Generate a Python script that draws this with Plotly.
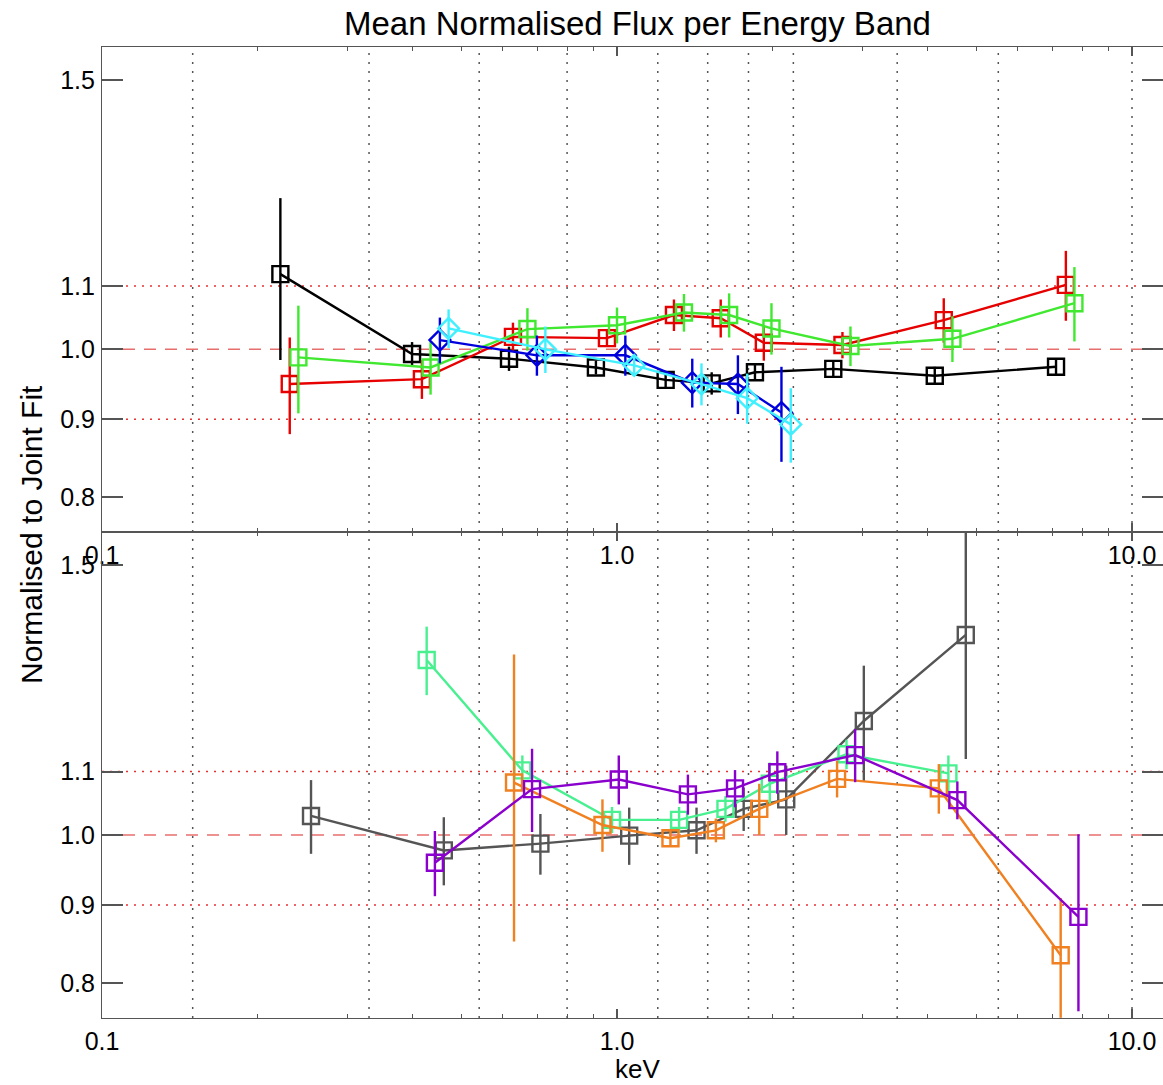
import math
import plotly.graph_objects as go

# ---------------- data ----------------
# top panel
black_e = [0.222, 0.400, 0.617, 0.910, 1.243, 1.527, 1.853, 2.63, 4.14, 7.12]
black_v = [1.120, 0.993, 0.986, 0.973, 0.955, 0.950, 0.966, 0.971, 0.961, 0.974]
black_err = [0.136, 0.018, 0.018, 0.010, 0.012, 0.016, 0.012, 0.011, 0.013, 0.012]

red_e = [0.2315, 0.418, 0.628, 0.956, 1.29, 1.59, 1.928, 2.74, 4.31, 7.44]
red_v = [0.949, 0.956, 1.019, 1.017, 1.053, 1.048, 1.010, 1.0065, 1.045, 1.102]
red_err = [0.069, 0.028, 0.022, 0.013, 0.025, 0.03, 0.027, 0.02, 0.035, 0.058]

green_e = [0.2406, 0.4345, 0.67, 1.0, 1.349, 1.651, 1.995, 2.84, 4.48, 7.73]
green_v = [0.988, 0.973, 1.031, 1.037, 1.057, 1.053, 1.032, 1.005, 1.016, 1.072]
green_err = [0.08, 0.039, 0.033, 0.028, 0.03, 0.035, 0.04, 0.03, 0.035, 0.06]

blue_e = [0.453, 0.699, 1.038, 1.40, 1.717, 2.086]
blue_v = [1.014, 0.991, 0.991, 0.951, 0.949, 0.909]
blue_err = [0.035, 0.03, 0.03, 0.035, 0.042, 0.065]

cyan_e = [0.471, 0.726, 1.08, 1.459, 1.79, 2.175]
cyan_v = [1.032, 1.0, 0.976, 0.949, 0.929, 0.893]
cyan_err = [0.03, 0.035, 0.015, 0.03, 0.035, 0.05]

# bottom panel
gray_e = [0.2546, 0.461, 0.71, 1.056, 1.427, 1.762, 2.131, 3.015, 4.756]
gray_v = [1.029, 0.977, 0.987, 0.999, 1.007, 1.040, 1.055, 1.187, 1.351]
gray_err = [0.057, 0.05, 0.045, 0.043, 0.035, 0.034, 0.055, 0.103, 0.23]

aqua_e = [0.427, 0.655, 0.978, 1.32, 1.624, 1.98, 2.79, 4.40]
aqua_v = [1.301, 1.102, 1.023, 1.023, 1.040, 1.080, 1.129, 1.097]
aqua_err = [0.067, 0.025, 0.02, 0.02, 0.02, 0.035, 0.025, 0.03]

orange_e = [0.631, 0.937, 1.27, 1.556, 1.889, 2.675, 4.216, 7.27]
orange_v = [1.082, 1.015, 0.995, 1.007, 1.040, 1.088, 1.0725, 0.8345]
orange_err = [0.23, 0.04, 0.012, 0.018, 0.04, 0.03, 0.04, 0.075]

purple_e = [0.443, 0.684, 1.008, 1.373, 1.695, 2.048, 2.90, 4.58, 7.87]
purple_v = [0.959, 1.0714, 1.087, 1.063, 1.0725, 1.099, 1.1276, 1.0538, 0.884]
purple_err = [0.047, 0.067, 0.04, 0.032, 0.03, 0.035, 0.045, 0.03, 0.117]

band_edges = [0.15, 0.33, 0.54, 0.8, 1.2, 1.5, 1.8, 2.2, 3.5, 5.5, 10.0]

y_tickvals = [0.8, 0.9, 1.0, 1.1, 1.5]
y_ticktext = ["0.8", "0.9", "1.0", "1.1", "1.5"]
x_tickvals = [0.1, 1.0, 10.0]
x_ticktext = ["0.1", "1.0", "10.0"]
x_minor = [0.2, 0.3, 0.4, 0.5, 0.6, 0.7, 0.8, 0.9, 2, 3, 4, 5, 6, 7, 8, 9]

title_text = "Mean Normalised Flux per Energy Band"
ylabel_text = "Normalised to Joint Fit"
xlabel_text = "keV"

# ---------------- layout geometry ----------------
W, H = 1163, 1085
LEFT = 102
TOP, MID, BOT = 47, 532, 1018
FONT = "Liberation Sans, Arial, Helvetica, sans-serif"


def py(p):
    return 1 - p / H


fig = go.Figure()


def add_series(e, v, err, color, symbol, xa, ya):
    fig.add_trace(go.Scatter(
        x=e, y=v, mode="lines+markers",
        line=dict(color=color, width=2.4),
        marker=dict(symbol=symbol, size=16, color=color,
                    line=dict(color=color, width=2.4)),
        error_y=dict(type="data", array=err, visible=True,
                     color=color, thickness=2.4, width=0),
        xaxis=xa, yaxis=ya, showlegend=False, cliponaxis=True,
    ))


add_series(black_e, black_v, black_err, "#000000", "square-open", "x", "y")
add_series(red_e, red_v, red_err, "#e60000", "square-open", "x", "y")
add_series(green_e, green_v, green_err, "#40e830", "square-open", "x", "y")
add_series(blue_e, blue_v, blue_err, "#0000dd", "diamond-open", "x", "y")
add_series(cyan_e, cyan_v, cyan_err, "#40f0ff", "diamond-open", "x", "y")

add_series(gray_e, gray_v, gray_err, "#555555", "square-open", "x2", "y2")
add_series(aqua_e, aqua_v, aqua_err, "#48f090", "square-open", "x2", "y2")
add_series(orange_e, orange_v, orange_err, "#f08020", "square-open", "x2", "y2")
add_series(purple_e, purple_v, purple_err, "#8a00cc", "square-open", "x2", "y2")

xrange = [-1, -1 + (W - LEFT) / 515.0]
yrange = [math.log10(0.7593), math.log10(1.5773)]

axcol = "#555555"
xcommon = dict(
    type="log", range=xrange, domain=[LEFT / W, 1], automargin=False,
    showline=True, linecolor=axcol, linewidth=1.2, mirror="ticks",
    ticks="inside", ticklen=9, tickwidth=1.5, tickcolor=axcol,
    tickvals=x_tickvals, ticktext=x_ticktext, showgrid=False, zeroline=False,
    tickfont=dict(family=FONT, size=25, color="black"),
    minor=dict(tickvals=x_minor, ticks="inside", ticklen=4, tickwidth=1.2,
               tickcolor=axcol, showgrid=False),
    ticklabelstandoff=1,
)
ycommon = dict(
    type="log", range=yrange, automargin=False,
    showline=True, linecolor=axcol, linewidth=1.2, mirror="ticks",
    ticks="inside", ticklen=21, tickwidth=1.5, tickcolor=axcol,
    tickvals=y_tickvals, ticktext=y_ticktext, showgrid=False, zeroline=False,
    tickfont=dict(family=FONT, size=25, color="black"),
    ticklabelstandoff=1,
)

fig.update_layout(
    width=W, height=H,
    margin=dict(l=0, r=0, t=0, b=0, autoexpand=False),
    paper_bgcolor="white", plot_bgcolor="white",
    xaxis=dict(xcommon, anchor="y"),
    yaxis=dict(ycommon, anchor="x", domain=[py(MID), py(TOP)]),
    xaxis2=dict(xcommon, anchor="y2"),
    yaxis2=dict(ycommon, anchor="x2", domain=[py(BOT), py(MID)]),
    showlegend=False,
)

shapes = []
for e in band_edges:
    shapes.append(dict(type="line", xref="x", yref="paper", x0=e, x1=e,
                       y0=py(BOT), y1=py(TOP), layer="below",
                       line=dict(color="#555555", width=1.5, dash="2px,7px")))
for ya in ["y", "y2"]:
    shapes.append(dict(type="line", xref="paper", yref=ya, x0=LEFT / W, x1=1,
                       y0=1.0, y1=1.0, layer="below",
                       line=dict(color="rgb(232,110,110)", width=1.5, dash="12px,9px")))
    for lvl in (0.9, 1.1):
        shapes.append(dict(type="line", xref="paper", yref=ya, x0=LEFT / W, x1=1,
                           y0=lvl, y1=lvl, layer="below",
                           line=dict(color="rgb(230,50,50)", width=1.5, dash="2px,6px")))
fig.update_layout(shapes=shapes)

fig.add_annotation(text=title_text, xref="paper", yref="paper",
                   x=637 / W, y=py(24), xanchor="center", yanchor="middle",
                   showarrow=False, font=dict(family=FONT, size=33, color="black"))
fig.add_annotation(text=ylabel_text, xref="paper", yref="paper",
                   x=31 / W, y=py(535), xanchor="center", yanchor="middle",
                   textangle=-90, showarrow=False,
                   font=dict(family=FONT, size=30, color="black"))
fig.add_annotation(text=xlabel_text, xref="paper", yref="paper",
                   x=637 / W, y=py(1069), xanchor="center", yanchor="middle",
                   showarrow=False, borderpad=0,
                   font=dict(family=FONT, size=26, color="black"))

fig.write_html("out.html")
